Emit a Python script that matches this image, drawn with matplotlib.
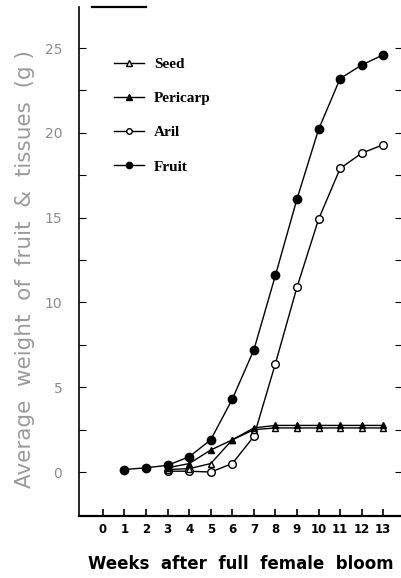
import matplotlib.pyplot as plt
from matplotlib.lines import Line2D

# weeks after full female bloom
weeks_fruit = [1, 2, 3, 4, 5, 6, 7, 8, 9, 10, 11, 12, 13]
weeks_tissue = [3, 4, 5, 6, 7, 8, 9, 10, 11, 12, 13]

# average weight (g)
fruit = [0.15, 0.25, 0.4, 0.9, 1.9, 4.3, 7.2, 11.6, 16.1, 20.2, 23.2, 24.0, 24.6]
aril = [0.05, 0.05, 0.0, 0.5, 2.1, 6.4, 10.9, 14.9, 17.9, 18.8, 19.3]
pericarp = [0.25, 0.5, 1.3, 1.9, 2.6, 2.75, 2.75, 2.75, 2.75, 2.75, 2.75]
seed = [0.15, 0.2, 0.5, 1.9, 2.5, 2.6, 2.6, 2.6, 2.6, 2.6, 2.6]

x_ticks = list(range(0, 14))
y_major = [0, 5, 10, 15, 20, 25]
y_minor = [2.5, 7.5, 12.5, 17.5, 22.5]

fig = plt.figure(figsize=(4.02, 5.78), dpi=100)
ax = fig.add_axes([0.1965, 0.1073, 0.8035, 0.8806])

kw = dict(color="black", lw=1.0, clip_on=False)
ax.plot(weeks_tissue, aril, marker="o", ms=5.5, mfc="white", mec="black", mew=1.0, **kw)
ax.plot(weeks_tissue, seed, marker="^", ms=5, mfc="white", mec="black", mew=1.0, **kw)
ax.plot(weeks_tissue, pericarp, marker="^", ms=5, mfc="black", mec="black", **kw)
ax.plot(weeks_fruit, fruit, marker="o", ms=6, mfc="black", mec="black", **kw)

ax.set_xlim(-1.11, 13.87)
ax.set_ylim(-2.59, 27.42)

ax.spines["right"].set_visible(False)
ax.spines["top"].set_bounds(-0.5, 2.0)
ax.spines["top"].set_linewidth(1.6)
ax.spines["left"].set_linewidth(1.2)
ax.spines["bottom"].set_linewidth(1.6)

ax.set_xticks(x_ticks)
ax.set_xticklabels([str(w) for w in x_ticks], fontsize=8.5, fontweight="bold")
ax.tick_params(axis="x", direction="in", length=5, width=1.2, pad=5)

ax.set_yticks(y_major)
ax.set_yticks(y_minor, minor=True)
ax.set_yticklabels([str(v) for v in y_major], fontsize=10, color="#8c8c8c")
ax.tick_params(axis="y", which="both", direction="in", length=5, width=0.8,
               right=True, pad=12)

ax.set_ylabel("Average  weight  of  fruit  &  tissues  (g )", fontsize=15.5,
              color="#9a9a9a")
ax.yaxis.set_label_coords(-0.135, 0.485)
ax.set_xlabel("Weeks  after  full  female  bloom", fontsize=12,
              fontweight="bold", labelpad=14)

handles = [
    Line2D([], [], color="black", lw=1.0, marker="^", ms=4, mfc="white", mec="black"),
    Line2D([], [], color="black", lw=1.0, marker="^", ms=4, mfc="black"),
    Line2D([], [], color="black", lw=1.0, marker="o", ms=4, mfc="white", mec="black"),
    Line2D([], [], color="black", lw=1.0, marker="o", ms=4.5, mfc="black"),
]
ax.legend(handles, ["Seed", "Pericarp", "Aril", "Fruit"], loc="upper left",
          bbox_to_anchor=(0.085, 0.916), frameon=False, handlelength=1.96,
          handletextpad=0.65, labelspacing=1.34, borderpad=0,
          prop={"family": "Liberation Serif", "weight": "bold", "size": 11})

fig.savefig("out.png", dpi=100)
